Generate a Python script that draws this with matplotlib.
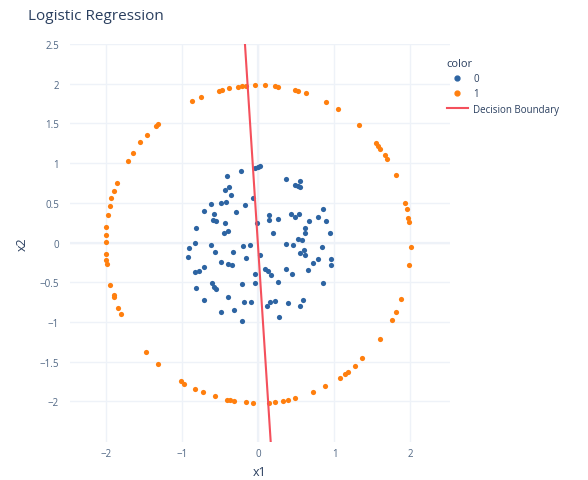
import matplotlib
matplotlib.use("Agg")
import matplotlib.pyplot as plt
from matplotlib.lines import Line2D

plt.rcParams['font.family'] = ['Open Sans', 'DejaVu Sans']

# class 0 (inner disc)
x0 = [-0.046, -0.011, 0.016, -0.230, -0.411, 0.358, 0.476, 0.516, 0.546, 0.542,
      -0.384, -0.437, -0.362, -0.076, -0.432, -0.497, -0.625, -0.178, -0.713, -0.292,
      -0.582, -0.603, -0.563, -0.437, -0.024, 0.138, 0.142, 0.261, 0.428, 0.480,
      0.533, 0.664, 0.787, 0.853, 0.888, -0.818, -0.450, -0.397, 0.195, 0.612,
      0.612, 0.941, 0.516, 0.568,
      -0.911, -0.836, -0.625, -0.200, -0.112, -0.932, -0.572, -0.332, -0.168, 0.020,
      0.358, 0.458, 0.546, 0.603, 0.612, 0.832, 0.954, 0.954, 0.779, 0.717,
      -0.493, -0.397, -0.345, -0.836, -0.783, -0.713, -0.046, 0.086, 0.129, 0.161,
      0.358, 0.437, 0.655, 0.853, -0.046, 0.261, -0.221, -0.608, -0.582, -0.563,
      -0.818, -0.397, -0.713, -0.191, -0.095, 0.108, 0.151, 0.217, 0.384, 0.589,
      0.546, -0.497, -0.318, 0.270, -0.221]
y0 = [0.942, 0.955, 0.962, 0.899, 0.842, 0.795, 0.724, 0.707, 0.774, 0.704,
      0.698, 0.657, 0.598, 0.557, 0.515, 0.494, 0.485, 0.477, 0.393, 0.389,
      0.356, 0.284, 0.276, 0.242, 0.242, 0.343, 0.289, 0.293, 0.364, 0.322,
      0.356, 0.268, 0.327, 0.418, 0.268, 0.180, 0.126, 0.151, 0.117, 0.188,
      0.121, 0.126, 0.050, 0.029,
      -0.063, -0.009, -0.025, -0.043, -0.030, -0.176, -0.118, -0.118, -0.197, -0.160,
      -0.021, -0.034, -0.126, -0.093, -0.160, -0.050, -0.210, -0.281, -0.210, -0.251,
      -0.244, -0.264, -0.281, -0.369, -0.357, -0.302, -0.398, -0.327, -0.357, -0.407,
      -0.335, -0.398, -0.348, -0.503, -0.503, -0.495, -0.524, -0.511, -0.553, -0.587,
      -0.570, -0.691, -0.721, -0.746, -0.746, -0.796, -0.746, -0.741, -0.754, -0.721,
      -0.796, -0.872, -0.850, -0.935, -0.985]

# class 1 (outer ring)
x1 = [-1.471, -1.349, -1.318, -0.871, -0.761, -0.520, -0.484, -0.384, -0.266, -0.221,
      -0.168, -0.042, 0.089, 0.217, 0.253, 0.480, 0.524, 0.621, 0.888, 1.050,
      1.326, 1.542, 1.576, 1.603, 1.664, 1.691, 1.805, 1.928, 1.950, 1.971,
      1.976, 2.007, 1.984, 1.875, 1.813, 1.761, 1.595, 1.358, 1.270, 1.174,
      1.138, 1.072, 0.875, 0.721, 0.480, 0.392, 0.326, 0.217, 0.138, -0.068,
      -0.168, -0.318, -0.375, -0.418, -0.572, -0.734, -0.836, -0.976, -1.020, -1.326,
      -1.484, -1.555, -1.647, -1.721, -1.862, -1.897, -1.941, -1.958, -1.984, -2.003,
      -2.011, -2.011, -2.011, -2.003, -1.993, -1.954, -1.905, -1.897, -1.853, -1.809]
y1 = [1.352, 1.474, 1.499, 1.788, 1.834, 1.913, 1.922, 1.947, 1.964, 1.972,
      1.976, 1.985, 1.980, 1.972, 1.964, 1.926, 1.913, 1.879, 1.774, 1.687,
      1.486, 1.256, 1.214, 1.181, 1.097, 1.055, 0.849, 0.494, 0.427, 0.314,
      0.264, -0.050, -0.276, -0.712, -0.872, -0.976, -1.215, -1.457, -1.558, -1.633,
      -1.658, -1.709, -1.809, -1.877, -1.960, -1.977, -1.990, -2.003, -2.015, -2.019,
      -2.010, -1.994, -1.985, -1.977, -1.935, -1.884, -1.843, -1.776, -1.744, -1.525,
      -1.374, 1.264, 1.131, 1.030, 0.745, 0.653, 0.557, 0.460, 0.343, 0.196,
      0.101, 0.008, -0.138, -0.222, -0.273, -0.537, -0.662, -0.691, -0.817, -0.905]

# decision boundary
line_x = [-0.178, 0.161]
line_y = [2.5, -2.51]

xticks = [-2, -1, 0, 1, 2]
yticks = [-2, -1.5, -1, -0.5, 0, 0.5, 1, 1.5, 2, 2.5]
ytick_labels = ['−2', '−1.5', '−1', '−0.5', '0', '0.5', '1', '1.5', '2', '2.5']
xtick_labels = ['−2', '−1', '0', '1', '2']

BLUE = '#2d64a2'
ORANGE = '#ff7f0e'
RED = '#f4505c'
TXT = '#2a3f5f'
TICK = '#506784'
GRID = '#eef2f8'

fig = plt.figure(figsize=(5.88, 4.81), dpi=100)
ax = fig.add_axes([70/588, 1-443/481, 380/588, 398/481])

ax.scatter(x0, y0, s=14, color=BLUE, linewidths=0, zorder=3)
ax.scatter(x1, y1, s=14, color=ORANGE, linewidths=0, zorder=3)
ax.plot(line_x, line_y, color=RED, lw=1.5, zorder=4)

ax.set_xlim(-2.48, 2.52)
ax.set_ylim(-2.51, 2.5)
ax.set_xticks(xticks)
ax.set_xticklabels(xtick_labels)
ax.set_yticks(yticks)
ax.set_yticklabels(ytick_labels)
ax.tick_params(axis='x', length=0, labelsize=7, colors=TICK, pad=4)
ax.tick_params(axis='y', length=0, labelsize=7, colors=TICK, pad=8)
for s in ax.spines.values():
    s.set_visible(False)
ax.grid(True, color=GRID, lw=1, zorder=0)
ax.axhline(0, color=GRID, lw=1.6, zorder=0)
ax.axvline(0, color=GRID, lw=1.6, zorder=0)
ax.set_axisbelow(True)

ax.set_xlabel('x1', fontsize=9, color=TXT, labelpad=5)
ax.set_ylabel('x2', fontsize=9, color=TXT, labelpad=8)

fig.text(28/588, 1-16/481, 'Logistic Regression', fontsize=11, color=TXT,
         va='center', ha='left')

handles = [Line2D([], [], marker='o', ls='', color=BLUE, markersize=3.5),
           Line2D([], [], marker='o', ls='', color=ORANGE, markersize=3.5),
           Line2D([], [], color=RED, lw=1.5)]
leg = fig.legend(handles, ['0', '1', 'Decision Boundary'], title='color',
                 loc='upper left', bbox_to_anchor=(438/588, 1-50/481),
                 frameon=False, fontsize=7, title_fontsize=8,
                 handlelength=2.2, handletextpad=0.5, labelspacing=0.45,
                 alignment='left')
for t in leg.get_texts():
    t.set_color(TXT)
leg.get_title().set_color(TXT)

fig.savefig('out.png', dpi=100)
